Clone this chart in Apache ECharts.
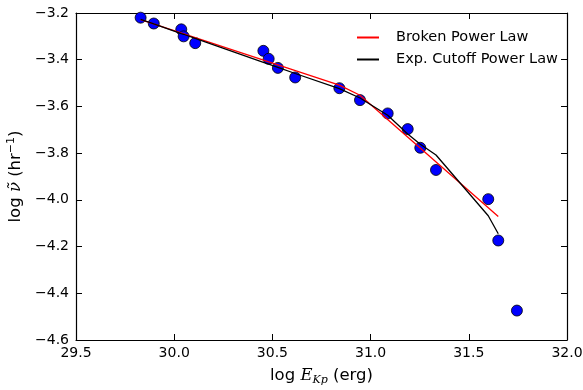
<!DOCTYPE html>
<html><head><meta charset="utf-8">
<script src="https://cdn.jsdelivr.net/npm/echarts@6/dist/echarts.min.js"></script>
<style>html,body{margin:0;padding:0;background:#fff;overflow:hidden}#c{width:583px;height:390px}</style>
</head><body><div id="c"></div>
<script>
// Observed flare frequency data
const obsX = [29.829, 29.896, 30.036, 30.048, 30.107, 30.454, 30.481, 30.528, 30.616, 30.841, 30.946, 31.087, 31.189, 31.253, 31.333, 31.599, 31.650, 31.745];
const obsY = [-3.220, -3.245, -3.270, -3.300, -3.329, -3.362, -3.396, -3.435, -3.476, -3.522, -3.573, -3.630, -3.697, -3.777, -3.872, -3.997, -4.174, -4.474];
// Broken power law fit (vertices)
const bplX = [29.829, 30.841, 30.946, 31.650];
const bplY = [-3.228, -3.509, -3.552, -4.071];
// Exponential cutoff power law fit
const expX = [29.829, 29.896, 30.036, 30.048, 30.107, 30.454, 30.481, 30.528, 30.616, 30.841, 30.946, 31.087, 31.189, 31.253, 31.333, 31.599, 31.650];
const expY = [-3.227, -3.247, -3.288, -3.291, -3.309, -3.411, -3.419, -3.433, -3.459, -3.524, -3.564, -3.638, -3.718, -3.762, -3.808, -4.068, -4.145];
// Axis ticks
const xTicks = [29.5, 30.0, 30.5, 31.0, 31.5, 32.0];
const yTicks = [-3.2, -3.4, -3.6, -3.8, -4.0, -4.2, -4.4, -4.6];

const zip = (a, b) => a.map((v, i) => [v, b[i]]);
const font = 'DejaVu Sans';
const fmtX = v => v.toFixed(1);
const fmtY = v => (v < 0 ? '\u2212' : '') + Math.abs(v).toFixed(1);

const chart = echarts.init(document.getElementById('c'), null, {renderer: 'canvas', width: 583, height: 390});
const baseAxisLine = {show: true, lineStyle: {color: '#000', width: 1.2}};
const tick = {show: true, inside: true, length: 6, lineStyle: {color: '#000', width: 1}};
chart.setOption({
  animation: false,
  backgroundColor: '#fff',
  grid: {left: 76, right: 16, top: 13, bottom: 50, containLabel: false, outerBoundsMode: 'none'},
  legend: {
    orient: 'vertical', left: 352, top: 25, itemWidth: 22, itemHeight: 2, itemGap: 7,
    icon: 'rect',
    textStyle: {fontFamily: font, fontSize: 14.5, lineHeight: 14, color: '#000', padding: [0, 0, 0, 12]},
    data: ['Broken Power Law', 'Exp. Cutoff Power Law']
  },
  xAxis: [{
    type: 'value', min: xTicks[0], max: xTicks[xTicks.length - 1], interval: 0.5,
    axisLine: baseAxisLine, axisTick: tick, splitLine: {show: false},
    axisLabel: {formatter: fmtX, fontFamily: font, fontSize: 14, color: '#000', margin: 6},
    name: '{n|log }{i|E}{s|Kp}{n| (erg)}', nameLocation: 'middle', nameGap: 26,
    nameTextStyle: {rich: {
      n: {fontFamily: font, fontSize: 16.5, color: '#000'},
      i: {fontFamily: 'DejaVu Serif', fontStyle: 'italic', fontSize: 16.5, color: '#000'},
      s: {fontFamily: 'DejaVu Serif', fontStyle: 'italic', fontSize: 11, color: '#000', verticalAlign: 'bottom', padding: [9, 0, 0, 0]}
    }}
  }, {
    type: 'value', position: 'top', min: xTicks[0], max: xTicks[xTicks.length - 1], interval: 0.5,
    axisLine: baseAxisLine, axisTick: tick, axisLabel: {show: false}, splitLine: {show: false}
  }],
  yAxis: [{
    type: 'value', min: yTicks[yTicks.length - 1], max: yTicks[0], interval: 0.2,
    axisLine: baseAxisLine, axisTick: tick, splitLine: {show: false},
    axisLabel: {formatter: fmtY, fontFamily: font, fontSize: 14, color: '#000', margin: 7},
    name: '{n|log }{i|\u03BD\u0303}{n| (hr}{s|\u22121}{n|)}', nameLocation: 'middle', nameGap: 50, nameRotate: 90,
    nameTextStyle: {rich: {
      n: {fontFamily: font, fontSize: 16.5, color: '#000'},
      i: {fontFamily: 'DejaVu Serif', fontStyle: 'italic', fontSize: 16.5, color: '#000'},
      s: {fontFamily: font, fontSize: 11, color: '#000', verticalAlign: 'top', padding: [0, 0, 9, 0]}
    }}
  }, {
    type: 'value', position: 'right', min: yTicks[yTicks.length - 1], max: yTicks[0], interval: 0.2,
    axisLine: baseAxisLine, axisTick: tick, axisLabel: {show: false}, splitLine: {show: false}
  }],
  series: [
    {
      name: 'Observed', type: 'scatter', data: zip(obsX, obsY), symbol: 'circle', symbolSize: 11,
      itemStyle: {color: '#0000ff', borderColor: '#000', borderWidth: 0.8, opacity: 1}, z: 3
    },
    {
      name: 'Broken Power Law', type: 'line', data: zip(bplX, bplY), showSymbol: false, symbol: 'none',
      lineStyle: {color: '#ff0000', width: 1.3}, itemStyle: {color: '#ff0000'}, z: 4
    },
    {
      name: 'Exp. Cutoff Power Law', type: 'line', data: zip(expX, expY), showSymbol: false, symbol: 'none',
      lineStyle: {color: '#000', width: 1.3}, itemStyle: {color: '#000'}, z: 5
    }
  ]
});
</script></body></html>
